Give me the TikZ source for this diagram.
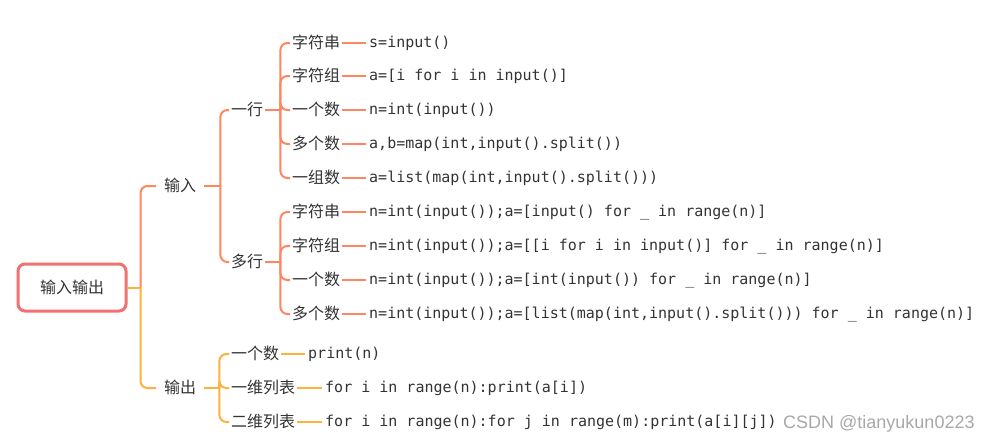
\documentclass[tikz,border=0pt]{standalone}
\usepackage{fontspec}
\newfontfamily\cjk{Noto Sans CJK SC}
\newfontfamily\mono{DejaVu Sans Mono}
\newfontfamily\wmfont{Liberation Sans}
\usetikzlibrary{positioning}
\definecolor{rootred}{HTML}{F2706F}
\definecolor{incoral}{HTML}{FF8660}
\definecolor{outgold}{HTML}{FFB13B}
\definecolor{txtgray}{HTML}{333333}
\definecolor{wmgray}{HTML}{A8A8A8}

\begin{document}
\begin{tikzpicture}[x=1pt,y=-1pt,
  lbl/.style={font=\cjk\fontsize{16}{16}\selectfont,text=txtgray,anchor=west,
    inner xsep=2pt,inner ysep=0pt,text height=13pt,text depth=3pt},
  toplbl/.style={lbl,inner xsep=8pt},
  src/.style={font=\mono\fontsize{15}{15}\selectfont,text=txtgray,anchor=west,
    inner xsep=3pt,inner ysep=0pt,text height=11pt,text depth=3pt},
  inlink/.style={incoral,line width=2pt},
  outlink/.style={outgold,line width=2pt},
  elbow/.style={rounded corners=7pt}]
  \useasboundingbox (0,0) rectangle (992,442);
  % root, then input / output
  \node[draw=rootred,line width=3pt,rounded corners=7pt,minimum width=108pt,
    minimum height=47pt,font=\cjk\fontsize{16}{16}\selectfont,text=txtgray]
    (root) at (72,287.5) {输入输出};
  \coordinate[right=13pt of root.east] (rj);
  \node[toplbl] (in) at (156,186) {输入};
  \node[toplbl] (out) at (156,388) {输出};
  \draw[outlink] (root.east) -- (rj);
  \draw[inlink,elbow] (rj) |- (in.west);
  \draw[outlink,elbow] (rj) |- (out.west);

  % input: one line / many lines
  \node[lbl] (yh) at (229,110) {一行};
  \node[lbl] (dh) at (229,262) {多行};
  \coordinate[right=16pt of in.east] (inj);
  \draw[inlink] (in.east) -- (inj);
  \draw[inlink,elbow] (inj) |- (yh.west);
  \draw[inlink,elbow] (inj) |- (dh.west);

  \coordinate[right=15pt of yh.east] (yhj);
  \draw[inlink] (yh.east) -- (yhj);
  \foreach \y/\lab/\code [count=\i] in {
      43/字符串/{s=input()},
      76/字符组/{a=[i for i in input()]},
      110/一个数/{n=int(input())},
      144/多个数/{a,b=map(int,input().split())},
      178/一组数/{a=list(map(int,input().split()))}} {
    \node[lbl] (yl\i) at (290,\y) {\lab};
    \node[src] (yc\i) at (366,\y) {\code};
    \draw[inlink,elbow] (yhj) |- (yl\i.west);
    \draw[inlink] (yl\i.east) -- (yc\i.west);
  }

  \coordinate[right=15pt of dh.east] (dhj);
  \draw[inlink] (dh.east) -- (dhj);
  \foreach \y/\lab/\code [count=\i] in {
      212/字符串/{n=int(input());a=[input() for \_ in range(n)]},
      246/字符组/{n=int(input());a=[[i for i in input()] for \_ in range(n)]},
      280/一个数/{n=int(input());a=[int(input()) for \_ in range(n)]},
      314/多个数/{n=int(input());a=[list(map(int,input().split())) for \_ in range(n)]}} {
    \node[lbl] (dl\i) at (290,\y) {\lab};
    \node[src] (dc\i) at (366,\y) {\code};
    \draw[inlink,elbow] (dhj) |- (dl\i.west);
    \draw[inlink] (dl\i.east) -- (dc\i.west);
  }

  % output
  \coordinate[right=15pt of out.east] (outj);
  \draw[outlink] (out.east) -- (outj);
  \foreach \y/\lab/\cx/\code [count=\i] in {
      354/一个数/305/{print(n)},
      388/一维列表/322/{for i in range(n):print(a[i])},
      422/二维列表/322/{for i in range(n):for j in range(m):print(a[i][j])}} {
    \node[lbl] (ol\i) at (229,\y) {\lab};
    \node[src] (oc\i) at (\cx,\y) {\code};
    \draw[outlink,elbow] (outj) |- (ol\i.west);
    \draw[outlink] (ol\i.east) -- (oc\i.west);
  }

  \node[font=\wmfont\fontsize{18}{18}\selectfont,text=wmgray,anchor=base west,
    inner sep=0pt] (wm) at (783,428.5) {CSDN @tianyukun0223};
\end{tikzpicture}
\end{document}
